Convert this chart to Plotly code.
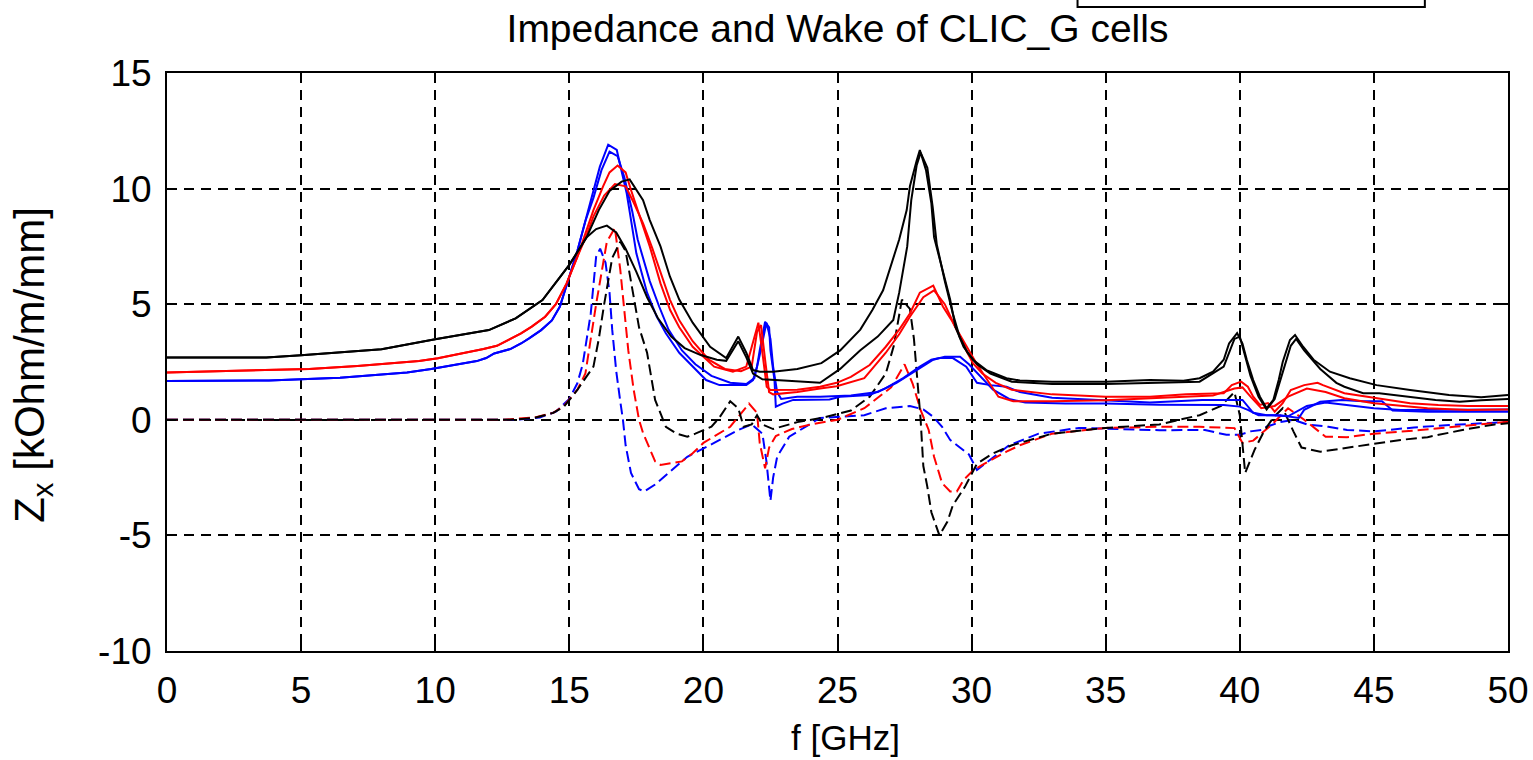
import plotly.graph_objects as go

# ---------------- data ----------------
f_bk_re_a = [0, 3.7, 5, 8, 10, 12, 13, 14, 15, 15.65, 16.1, 16.5, 16.95, 17.25, 17.75, 18.0, 18.4, 18.75, 19.1, 19.6,
             20.25, 20.85, 21.3, 21.6, 21.85, 22.1, 22.6, 23.5, 24.4, 25.1, 25.85, 26.3, 26.7, 27.07, 27.3, 27.58, 27.7,
             27.95, 28.07, 28.3, 28.5, 28.6, 28.9, 29.2, 29.4, 29.7, 30.05, 30.55, 31.3, 31.8, 33, 35, 36.65, 37.9, 38.5,
             39.0, 39.4, 39.6, 39.9, 40.1, 40.26, 40.5, 40.75, 41.0, 41.25, 41.45, 41.6, 41.87, 42.06, 42.36, 42.75,
             43.36, 44.1, 45.1, 46.35, 47.8, 49.0, 50]
z_bk_re_a = [2.69, 2.7, 2.79, 3.05, 3.48, 3.88, 4.39, 5.18, 6.7, 7.9, 9.07, 9.9, 10.3, 10.4, 9.5, 8.64, 7.5, 6.2, 5.2, 4.2,
             3.16, 2.67, 3.6, 2.9, 2.15, 2.08, 2.08, 2.2, 2.45, 3.0, 3.9, 4.75, 5.6, 6.9, 7.8, 9.07, 10.1,
             11.2, 11.67, 10.8, 9.36, 7.9, 6.6, 5.2, 4.0, 3.16, 2.6, 2.15, 1.8, 1.7, 1.65, 1.65, 1.72, 1.69, 1.8,
             2.08, 2.6, 3.3, 3.75, 3.3, 2.6, 1.72, 1.0, 0.5, 0.86, 1.72, 2.5, 3.45, 3.67, 3.16, 2.6,
             2.08, 1.8, 1.5, 1.29, 1.07, 0.98, 1.07]

f_bk_re_b = [0, 3.7, 5, 8, 10, 12, 13, 14, 15, 15.65, 16.0, 16.4, 16.75, 17.1, 17.5, 17.9, 18.3, 18.8, 19.3, 19.9,
             20.5, 20.85, 21.3, 21.6, 21.85, 22.2, 23.0, 24.35, 25.1, 25.84, 26.5, 27.08, 27.3, 27.6, 27.75, 27.95,
             28.1, 28.35, 28.55, 28.7, 29.0, 29.3, 29.55, 29.85, 30.2, 30.7, 31.5, 33, 35, 36.65, 38.5, 39.4, 39.8,
             40.0, 40.2, 40.4, 40.7, 41.0, 41.3, 41.6, 41.9, 42.1, 42.4, 43.0, 43.6, 43.9, 44.6, 45.2, 46.35, 47.3,
             48.2, 49.0, 50]
z_bk_re_b = [2.69, 2.7, 2.79, 3.05, 3.48, 3.88, 4.39, 5.18, 6.7, 7.9, 8.25, 8.4, 8.1, 7.4, 6.4, 5.3, 4.4, 3.6, 3.1, 2.8,
             2.6, 2.55, 3.4, 2.7, 2.0, 1.75, 1.7, 1.6, 2.2, 3.0, 3.6, 4.32, 5.5, 7.5, 9.5, 11.0,
             11.55, 10.9, 9.2, 7.6, 6.0, 4.6, 3.6, 2.9, 2.4, 2.0, 1.65, 1.55, 1.55, 1.6, 1.65, 2.3, 3.5,
             3.6, 2.8, 1.9, 1.0, 0.45, 0.9, 2.0, 3.2, 3.5, 3.0, 2.2, 1.6, 1.43, 1.15, 1.15, 1.0, 0.86,
             0.78, 0.85, 0.9]

f_bk_im = [0, 12.8, 13.7, 14.4, 14.8, 15.0, 15.3, 15.6, 15.9, 16.1, 16.3, 16.6, 16.9, 17.1, 17.3, 17.6, 17.9, 18.2,
           18.3, 18.6, 19.0, 19.4, 19.7, 20.3, 20.6, 21.0, 21.3, 21.5, 21.8, 22.0, 22.2, 22.6, 23.5, 24.5, 25.5, 26.2,
           26.8, 27.1, 27.4, 27.7, 27.85, 28.0, 28.1, 28.2, 28.35, 28.5, 28.8, 29.1, 29.3, 29.75, 30.2, 30.8, 31.5,
           33, 35, 37, 38.5, 39.3, 39.8, 40.0, 40.2, 40.55, 40.9, 41.25, 41.6, 42.0, 42.3, 43.0, 44.3, 46.0, 47.0,
           48.3, 49.5, 50]
z_bk_im = [0, 0, 0.08, 0.3, 0.57, 0.86, 1.29, 1.8, 2.3, 3.5, 5.0, 7.0, 7.7, 7.3, 6.0, 4.0, 2.9, 0.86,
           0.57, -0.3, -0.6, -0.73, -0.6, -0.3, 0.1, 0.8, 0.5, -0.3, -0.2, 0.2, -0.2, -0.4, -0.1, 0.1, 0.4, 1.0,
           2.0, 3.2, 5.2, 4.8, 3.5, 1.5, 0, -2.0, -2.9, -4.0, -5.0, -4.4, -3.7, -2.9, -1.9, -1.45, -1.1,
           -0.6, -0.35, -0.2, 0.2, 0.6, 1.2, 0.2, -2.3, -1.3, -0.5, 0.1, 0.5, -0.5, -1.2, -1.38, -1.15, -0.87, -0.75,
           -0.44, -0.2, -0.15]

f_rd_re_a = [0, 2, 5.3, 7.1, 8.5, 9.4, 10.1, 10.7, 11.2, 11.8, 12.3, 12.8, 13.2, 13.6, 14.1, 14.5, 14.9, 15.3, 15.65,
             15.9, 16.26, 16.5, 16.8, 17.1, 17.3, 17.55, 17.75, 18.0, 18.4, 18.76, 19.1, 19.6, 20.4, 21.1, 21.6, 21.85,
             22.05, 22.2, 22.36, 22.5, 23.5, 24.35, 24.97, 25.5, 26.2, 26.8, 27.3, 27.7, 28.07, 28.57, 28.93, 29.26,
             29.57, 29.8, 30.05, 30.4, 30.9, 31.5, 33, 35, 36.65, 38, 39.4, 39.7, 40.05, 40.3, 40.5, 40.75, 41.05,
             41.3, 41.6, 41.9, 42.4, 42.9, 43.1, 43.9, 44.7, 45.6, 46.35, 47.4, 48.5, 50]
z_rd_re_a = [2.05, 2.1, 2.2, 2.33, 2.44, 2.54, 2.66, 2.79, 2.92, 3.06, 3.2, 3.48, 3.74, 4.03, 4.46, 5.0, 5.9, 7.05, 8.2,
             9.07, 10.1, 10.7, 11.0, 10.7, 9.94, 9.07, 8.4, 7.5, 5.9, 4.75, 4.0, 3.16, 2.3, 2.08, 2.3, 3.3,
             4.2, 2.9, 1.43, 1.29, 1.3, 1.43, 1.6, 1.86, 2.37, 3.16, 3.9, 4.6, 5.5, 5.8, 4.9, 4.3,
             3.6, 3.0, 2.45, 2.0, 1.6, 1.3, 1.1, 1.0, 1.0, 1.1, 1.15, 1.5, 1.65, 1.43, 1.0, 0.64, 0.72,
             0.35, 0.72, 1.29, 1.5, 1.6, 1.5, 1.15, 1.0, 0.86, 0.72, 0.64, 0.6, 0.6]

f_rd_re_b = [0, 2, 5.3, 7.1, 8.5, 9.4, 10.1, 10.7, 11.2, 11.8, 12.3, 12.8, 13.2, 13.6, 14.1, 14.5, 14.9, 15.3, 15.65,
             15.9, 16.3, 16.7, 17.1, 17.4, 17.75, 18.1, 18.4, 18.75, 19.1, 19.6, 20.2, 20.8, 21.4, 21.8, 22.0, 22.15,
             22.3, 22.45, 22.6, 23.5, 24.35, 24.97, 26.0, 26.8, 27.3, 27.7, 28.2, 28.6, 29.0, 29.4, 29.8, 30.2, 30.6,
             31.0, 31.55, 33, 35, 37, 39, 39.8, 40.1, 40.4, 40.8, 41.3, 41.8, 42.5, 43.2, 43.9, 45, 47, 48.5, 50]
z_rd_re_b = [2.05, 2.1, 2.2, 2.33, 2.44, 2.54, 2.66, 2.79, 2.92, 3.06, 3.2, 3.48, 3.74, 4.03, 4.46, 5.0, 5.9, 7.05, 8.0,
             8.8, 9.7, 10.2, 10.1, 9.4, 8.5, 7.4, 6.4, 5.2, 4.3, 3.4, 2.6, 2.2, 2.1, 2.3, 3.8, 4.1,
             2.6, 1.2, 1.1, 1.2, 1.35, 1.45, 1.8, 2.9, 3.7, 4.46, 5.3, 5.6, 5.0, 4.0, 3.2, 2.4, 1.7,
             1.0, 0.8, 0.8, 0.85, 0.95, 1.05, 1.35, 1.4, 1.0, 0.5, 0.6, 1.0, 1.35, 1.2, 0.93, 0.72, 0.5, 0.42, 0.45]

f_rd_im = [0, 12.5, 13.7, 14.4, 14.8, 15.0, 15.3, 15.6, 16.0, 16.4, 16.7, 16.9, 17.2, 17.4, 17.6, 17.75, 18.2, 18.4,
           19.2, 19.6, 20.0, 20.8, 21.0, 21.7, 22.0, 22.1, 22.3, 22.45, 22.7, 23.3, 24.0, 25.0, 26.0, 27.0, 27.5,
           27.8, 28.1, 28.4, 28.6, 28.9, 29.2, 29.45, 29.7, 30.05, 30.4, 31.3, 31.8, 33, 35, 37, 38.5, 39.8, 40.1,
           40.5, 40.8, 41.2, 41.8, 42.4, 43.2, 44.0, 45.0, 46.5, 48, 50]
z_rd_im = [0, 0, 0.1, 0.3, 0.6, 0.9, 1.3, 2.0, 5.0, 7.7, 8.3, 6.5, 3.0, 1.3, 0, -0.57, -1.8, -1.95,
           -1.8, -1.45, -1.0, -0.44, -0.3, 0.7, 0.3, -1.0, -2.1, -1.2, -0.7, -0.4, -0.2, 0, 0.5, 1.4, 2.4,
           1.57, 0.42, -0.44, -1.6, -2.74, -3.1, -3.1, -2.6, -2.2, -1.95, -1.38, -1.1, -0.6, -0.35, -0.3, -0.3, -0.36,
           -1.0, -0.9, -0.6, -0.2, 0.5, 0, -0.73, -0.75, -0.6, -0.47, -0.3, -0.08]

f_bl_re_a = [0, 3.8, 6.45, 7.9, 8.95, 9.85, 10.4, 10.9, 11.55, 11.9, 12.2, 12.8, 13.2, 13.5, 13.95, 14.35, 14.65, 15.3,
             15.6, 15.9, 16.14, 16.45, 16.77, 16.96, 17.14, 17.26, 17.4, 17.5, 17.7, 17.9, 18.26, 18.6, 19.1, 19.6,
             20.1, 20.6, 21.6, 21.85, 22.0, 22.1, 22.3, 22.45, 22.5, 22.65, 22.7, 22.95, 23.35, 24.7, 25.1, 26.2,
             26.8, 27.45, 28.07, 28.5, 28.8, 29.3, 29.8, 30.2, 30.7, 31.3, 31.8, 33, 35, 36.65, 38.6, 40.1, 40.5,
             41.0, 41.5, 42.2, 42.4, 43.0, 43.8, 44.6, 45.3, 45.7, 47, 50]
z_bl_re_a = [1.68, 1.7, 1.82, 1.94, 2.05, 2.2, 2.31, 2.44, 2.54, 2.67, 2.87, 3.06, 3.3, 3.52, 3.88, 4.3, 4.9, 7.3,
             8.6, 9.9, 10.95, 11.9, 11.67, 10.7, 9.8, 8.94, 7.9, 7.2, 6.35, 5.5, 4.46, 3.74, 2.9, 2.3,
             1.72, 1.5, 1.5, 1.72, 2.3, 3.0, 4.24, 4.0, 3.0, 1.72, 0.57, 0.7, 0.86, 0.88, 1.0, 1.07,
             1.37, 1.8, 2.3, 2.6, 2.67, 2.67, 2.3, 1.6, 1.5, 1.43, 1.2, 0.95, 0.85, 0.75, 0.86, 0.86, 0.3,
             0.2, 0.2, 0.08, 0.43, 0.78, 0.86, 0.8, 0.8, 0.4, 0.35, 0.35]

f_bl_re_b = [0, 3.8, 6.45, 7.9, 8.95, 9.85, 10.4, 10.9, 11.55, 11.9, 12.2, 12.8, 13.2, 13.5, 13.95, 14.35, 14.65, 15.3,
             15.6, 15.9, 16.2, 16.5, 16.8, 17.05, 17.35, 17.55, 17.8, 18.0, 18.35, 18.7, 19.2, 19.7, 20.3, 21.0,
             21.6, 21.9, 22.1, 22.35, 22.5, 22.6, 22.75, 22.9, 23.5, 24.35, 25.5, 26.5, 27.2, 27.95, 28.57, 29.0,
             29.57, 29.9, 30.3, 30.8, 31.4, 32, 33.5, 35, 37, 39.4, 40.0, 40.3, 40.7, 41.2, 41.8, 42.5, 43.2, 44,
             45, 46, 48, 50]
z_bl_re_b = [1.68, 1.7, 1.82, 1.94, 2.05, 2.2, 2.31, 2.44, 2.54, 2.67, 2.87, 3.06, 3.3, 3.52, 3.88, 4.3, 4.9, 7.3,
             8.6, 9.6, 10.8, 11.6, 11.4, 10.5, 9.0, 7.8, 6.8, 6.0, 4.9, 3.9, 3.0, 2.4, 1.9, 1.6,
             1.55, 1.8, 2.8, 4.2, 3.5, 2.3, 1.2, 0.9, 1.0, 1.0, 1.05, 1.2, 1.6, 2.15, 2.6, 2.73,
             2.73, 2.4, 1.9, 1.3, 0.9, 0.75, 0.7, 0.7, 0.65, 0.64, 0.57, 0.43, 0.2, 0.2, 0.15, 0.6, 0.75, 0.65,
             0.5, 0.42, 0.42, 0.45]

f_bl_im = [0, 13, 13.9, 14.5, 15.0, 15.3, 15.5, 15.8, 16.0, 16.15, 16.35, 16.5, 16.6, 16.75, 16.9, 17.0, 17.1, 17.3,
           17.6, 17.8, 18.2, 18.6, 19.4, 20.4, 21.3, 21.8, 22.2, 22.35, 22.5, 22.6, 22.75, 23.2, 24.0, 24.35, 26,
           26.8, 27.7, 28.2, 28.57, 28.9, 29.2, 29.9, 30.2, 30.5, 31.4, 32.5, 34, 35.5, 37, 38.7, 39.5, 40.0, 40.4,
           40.8, 41.0, 41.5, 42.0, 42.5, 43.3, 44.0, 45.0, 46.5, 48.2, 50]
z_bl_im = [0, 0, 0.1, 0.35, 0.9, 1.58, 2.4, 4.6, 7.05, 7.4, 6.8, 5.5, 3.9, 2.1, 0.8, 0, -1.1, -2.3,
           -3.0, -3.1, -2.8, -2.4, -1.6, -1.0, -0.44, -0.2, -0.6, -1.8, -3.5, -2.5, -1.6, -0.73, -0.15, 0.08, 0.2,
           0.5, 0.6, 0.45, 0.13, -0.3, -0.87, -1.5, -2.17, -1.9, -1.1, -0.6, -0.35, -0.4, -0.45, -0.44, -0.65, -0.65,
           -0.5, -0.44, -0.3, -0.1, 0.0, -0.2, -0.3, -0.44, -0.5, -0.33, -0.2, -0.1]

x_ticks = [0, 5, 10, 15, 20, 25, 30, 35, 40, 45, 50]
y_ticks = [-10, -5, 0, 5, 10, 15]
title_text = "Impedance and Wake of CLIC_G cells"
x_label = "f [GHz]"
y_label = "Z<sub>x</sub> [kOhm/m/mm]"

BLACK, RED, BLUE = "#000000", "#ff0000", "#0000ff"
FONT = "Liberation Sans, Arial, sans-serif"
DASH = "11px,5px"

series = [
    (f_bl_im, z_bl_im, BLUE, DASH),
    (f_rd_im, z_rd_im, RED, DASH),
    (f_bk_im, z_bk_im, BLACK, DASH),
    (f_bl_re_b, z_bl_re_b, BLUE, "solid"),
    (f_bl_re_a, z_bl_re_a, BLUE, "solid"),
    (f_rd_re_b, z_rd_re_b, RED, "solid"),
    (f_rd_re_a, z_rd_re_a, RED, "solid"),
    (f_bk_re_b, z_bk_re_b, BLACK, "solid"),
    (f_bk_re_a, z_bk_re_a, BLACK, "solid"),
]

fig = go.Figure()
for fx, zy, col, dash in series:
    fig.add_trace(go.Scatter(x=fx, y=zy, mode="lines",
                             line=dict(color=col, width=2, dash=dash),
                             showlegend=False, hoverinfo="skip"))

axis_common = dict(showline=True, linecolor="black", linewidth=2, mirror="ticks",
                   ticks="inside", ticklen=9, tickwidth=2, tickcolor="black",
                   showgrid=True, gridcolor="black", gridwidth=2, griddash="10px,7px",
                   zeroline=False, automargin=False, ticklabeloverflow="allow",
                   tickfont=dict(family=FONT, size=37, color="black"))

fig.update_xaxes(range=[0, 50], tickvals=x_ticks, ticktext=[str(v) for v in x_ticks],
                 ticklabelstandoff=6, **axis_common)
fig.update_yaxes(range=[-10, 15], tickvals=y_ticks, ticktext=[str(v) for v in y_ticks],
                 ticklabelstandoff=6, **axis_common)

fig.update_layout(
    width=1533, height=760,
    margin=dict(l=167, r=25, t=73, b=109, autoexpand=False),
    paper_bgcolor="white", plot_bgcolor="white",
    title=dict(text=title_text, x=0.5, xref="paper", xanchor="center",
               y=1 - 28 / 760, yref="container", yanchor="middle",
               font=dict(family=FONT, size=39, color="black")),
    annotations=[
        dict(text=x_label, xref="paper", yref="paper", x=0.506, y=-0.1505,
             xanchor="center", yanchor="middle", showarrow=False,
             font=dict(family=FONT, size=35, color="black")),
        dict(text=y_label, xref="paper", yref="paper", x=-0.100, y=0.495,
             xanchor="center", yanchor="middle", showarrow=False, textangle=-90,
             font=dict(family=FONT, size=42, color="black")),
    ],
    shapes=[
        dict(type="rect", xref="paper", yref="paper", x0=0.679, x1=0.938, y0=1.114, y1=1.25,
             line=dict(color="black", width=2), fillcolor="white", layer="above"),
    ],
)

fig.write_html("out.html")
